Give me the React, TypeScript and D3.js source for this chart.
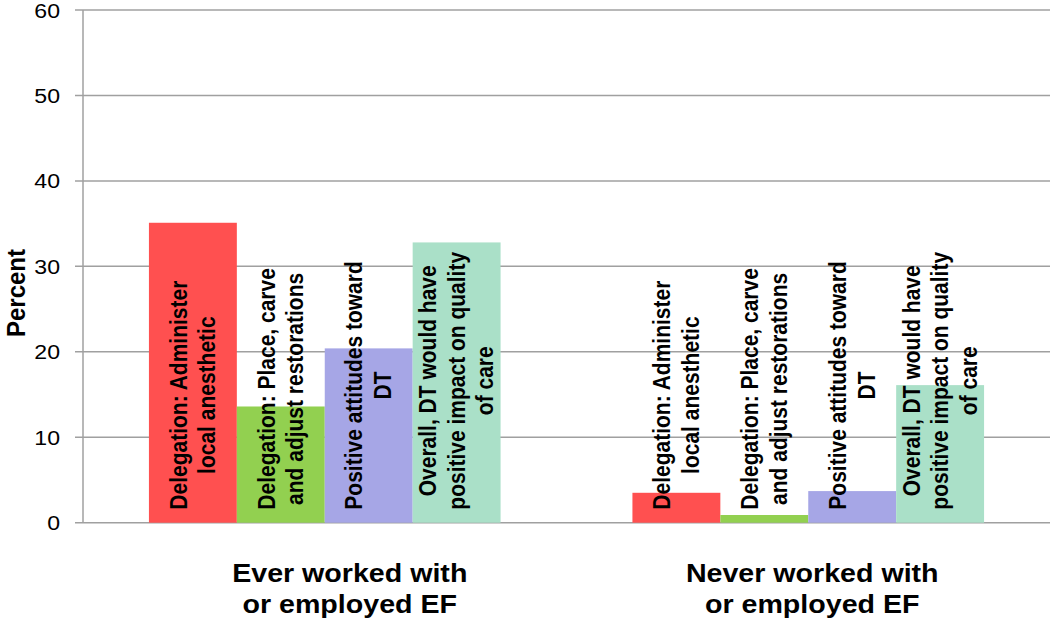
import React, { useRef, useEffect } from 'react';
import * as d3 from 'd3';

// groups along the x axis
const groupNames = ['Ever worked with|or employed EF', 'Never worked with|or employed EF'];
// one entry per bar within a group
const seriesNames = [
  'Delegation: Administer|local anesthetic',
  'Delegation: Place, carve|and adjust restorations',
  'Positive attitudes toward|DT',
  'Overall, DT would have|positive impact on quality|of care',
];
const seriesColors = ['#ff5050', '#92d050', '#a6a6e6', '#aae0c8'];
const everValues = [35.1, 13.6, 20.4, 32.8];
const neverValues = [3.5, 0.9, 3.7, 16.1];
const yTicks = [0, 10, 20, 30, 40, 50, 60];

const FONT = '"Liberation Sans", Arial, sans-serif';
const SX = 1.1; // the reference text is a bit wide

const App = () => {
  const svgRef = useRef<SVGSVGElement>(null);

  useEffect(() => {
    const svg = d3.select(svgRef.current);
    svg.selectAll('*').remove();

    const left = 83, right = 1050, top = 10, bottom = 522.7;

    const x0 = d3.scaleBand().domain(groupNames).range([left, right]).padding(0);
    const x1 = d3.scaleBand().domain(seriesNames).range([0, x0.bandwidth()])
      .paddingInner(0).paddingOuter(0.75);
    const y = d3.scaleLinear().domain([0, 60]).range([bottom, top]);

    const valuesByGroup = [everValues, neverValues];

    // gridlines
    svg.append('g').selectAll('line').data(yTicks).join('line')
      .attr('x1', left - 8).attr('x2', right)
      .attr('y1', d => y(d)).attr('y2', d => y(d))
      .attr('stroke', '#a0a0a0').attr('stroke-width', 1.5);

    // y axis line
    svg.append('line')
      .attr('x1', left).attr('x2', left).attr('y1', top).attr('y2', bottom)
      .attr('stroke', '#a0a0a0').attr('stroke-width', 1.5);

    // tick labels
    svg.append('g').selectAll('text').data(yTicks).join('text')
      .attr('transform', d => `translate(60,${y(d)}) scale(${SX},1)`)
      .attr('dy', '0.36em')
      .attr('text-anchor', 'end')
      .attr('font-family', FONT).attr('font-size', 21).attr('fill', '#000')
      .text(d => d);

    // y title
    svg.append('text')
      .attr('transform', `translate(25,293) scale(${SX},1) rotate(-90)`)
      .attr('text-anchor', 'middle')
      .attr('font-family', FONT).attr('font-size', 24).attr('font-weight', 'bold')
      .text('Percent');

    // bars
    const gGroups = svg.append('g').selectAll('g').data(groupNames).join('g')
      .attr('transform', d => `translate(${x0(d)},0)`);

    gGroups.each(function (g, gi) {
      const sel = d3.select(this);
      const vals = valuesByGroup[gi];
      sel.selectAll('rect').data(seriesNames).join('rect')
        .attr('x', d => x1(d)!)
        .attr('width', x1.bandwidth())
        .attr('y', (d, i) => y(vals[i]))
        .attr('height', (d, i) => y(0) - y(vals[i]))
        .attr('fill', (d, i) => seriesColors[i]);

      // rotated labels in each bar
      seriesNames.forEach((name) => {
        const lines = name.split('|');
        const lh = 26;
        const lg = sel.append('g');
        const t = lg.append('text')
          .attr('text-anchor', 'middle')
          .attr('font-family', FONT).attr('font-size', 21).attr('font-weight', 'bold')
          .attr('fill', '#000');
        lines.forEach((ln, li) => {
          t.append('tspan')
            .attr('x', 0)
            .attr('y', (li - (lines.length - 1) / 2) * lh)
            .attr('dy', '0.35em')
            .text(ln);
        });
        let maxW = 0;
        t.selectAll<SVGTSpanElement, unknown>('tspan').each(function () {
          maxW = Math.max(maxW, this.getComputedTextLength());
        });
        const cx = x1(name)! + x1.bandwidth() / 2;
        lg.attr('transform',
          `translate(${cx},${bottom - 13}) scale(${SX},1) rotate(-90) translate(${maxW / 2},0)`);
      });
    });

    // group labels (the first one sits a little right of its group centre in the original)
    const labelNudge = [25, 4];
    svg.append('g').selectAll('text').data(groupNames).join('text')
      .attr('text-anchor', 'middle')
      .attr('transform', (d, i) =>
        `translate(${x0(d)! + x0.bandwidth() / 2 + labelNudge[i]},0) scale(${SX},1)`)
      .attr('font-family', FONT).attr('font-size', 26).attr('font-weight', 'bold')
      .each(function (d) {
        d.split('|').forEach((ln, li) => {
          d3.select(this).append('tspan')
            .attr('x', 0).attr('y', 582 + li * 31)
            .text(ln);
        });
      });
  }, []);

  return (
    <svg ref={svgRef} width={1050} height={620}
      style={{ position: 'absolute', left: 0, top: 0, background: '#fff' }} />
  );
};

export default App;
